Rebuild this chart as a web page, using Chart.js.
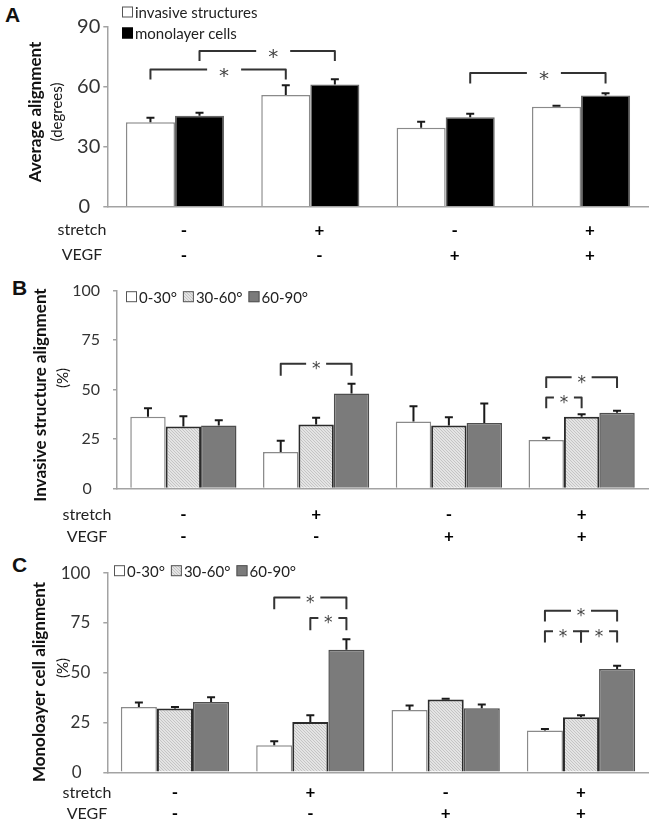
<!DOCTYPE html>
<html>
<head>
<meta charset="utf-8">
<script src="https://cdn.jsdelivr.net/npm/chart.js@4.4.0/dist/chart.umd.min.js"></script>
<style>
  body { margin: 0; background: #fff; width: 654px; height: 832px; position: relative; overflow: hidden; font-family: Lato, sans-serif; }
  canvas { position: absolute; left: 0; }
  .panel { position: absolute; font-weight: bold; font-size: 21px; font-family: "Liberation Sans", Arial, sans-serif; color: #111; }
</style>
</head>
<body>
<div class="panel" style="left:5px;top:3px">A</div>
<div class="panel" style="left:12px;top:276px">B</div>
<div class="panel" style="left:12px;top:553px">C</div>
<canvas id="chartA" width="654" height="265" style="top:0"></canvas>
<canvas id="chartB" width="654" height="282" style="top:268px"></canvas>
<canvas id="chartC" width="654" height="282" style="top:550px"></canvas>
<script>
// ---- données ----
const stretchRow = ['-', '+', '-', '+'];
const vegfRow = ['-', '-', '+', '+'];
const xLabels = stretchRow.map((s, i) => [s, vegfRow[i]]);
const rowNames = ['stretch', 'VEGF'];

const ticksA = [0, 30, 60, 90];
const ticksPct = [0, 25, 50, 75, 100];

// A : alignement moyen (degrés)
const invasive = [42.3, 56, 39.5, 50];
const invasiveErr = [2.2, 4.8, 3, 0.5];
const monolayer = [45.5, 61.2, 44.8, 55.7];
const monolayerErr = [1.5, 2.6, 1.7, 1.1];

// B : structures invasives (%)
const inv0_30 = [36.2, 18.4, 33.9, 24.5];
const inv0_30Err = [4.4, 5.7, 7.7, 1.1];
const inv30_60 = [31.3, 32.4, 31.8, 36.2];
const inv30_60Err = [5.2, 3.3, 4.2, 1.3];
const inv60_90 = [31.8, 48, 33.1, 38.3];
const inv60_90Err = [2.7, 4.9, 9.9, 1];

// C : cellules monocouche (%)
const mono0_30 = [32.8, 13.6, 31.3, 21];
const mono0_30Err = [2.3, 2, 2.2, 0.7];
const mono30_60 = [32, 25.3, 36.6, 27.7];
const mono30_60Err = [0.8, 3.4, 0.3, 0.9];
const mono60_90 = [35.3, 61.6, 32.2, 51.9];
const mono60_90Err = [2.4, 5.2, 1.9, 1.6];

Chart.defaults.font.family = 'Lato';
Chart.defaults.color = '#222';

// motif pointillé pour 30-60°
function dotted() {
  const c = document.createElement('canvas');
  c.width = 3; c.height = 3;
  const g = c.getContext('2d');
  g.fillStyle = '#e4e4e4'; g.fillRect(0, 0, 3, 3);
  g.fillStyle = '#c4c4c4'; g.fillRect(0, 0, 1, 1); g.fillRect(1, 1, 1, 1); g.fillRect(2, 2, 1, 1);
  return g.createPattern(c, 'repeat');
}
const hatch = dotted();

const styleWhite = { backgroundColor: '#fff', borderColor: '#8a8a8a', borderWidth: 1.5 };
const styleBlack = { backgroundColor: '#000', borderColor: '#666', borderWidth: 1.5 };
const styleLight = { backgroundColor: hatch, borderColor: '#2b2b2b', borderWidth: 2 };
const styleDark = { backgroundColor: '#7b7b7b', borderColor: '#4d4d4d', borderWidth: 1.5 };

// ---- plugin : barres d'erreur, crochets, titres, légende ----
const decor = {
  id: 'decor',
  afterDatasetsDraw(chart, args, o) {
    const ctx = chart.ctx, y = chart.scales.y;
    ctx.save();
    ctx.strokeStyle = '#1a1a1a';
    ctx.lineWidth = 2;
    chart.data.datasets.forEach((ds, i) => {
      chart.getDatasetMeta(i).data.forEach((bar, j) => {
        const top = y.getPixelForValue(ds.data[j] + ds.errors[j]);
        ctx.beginPath();
        ctx.moveTo(bar.x, bar.y);
        ctx.lineTo(bar.x, top);
        ctx.moveTo(bar.x - 4, top);
        ctx.lineTo(bar.x + 4, top);
        ctx.stroke();
      });
    });
    // crochets de significativité
    ctx.strokeStyle = '#333';
    ctx.lineJoin = 'round';
    ctx.fillStyle = '#444';
    ctx.font = o.starFont;
    ctx.textAlign = 'center';
    ctx.textBaseline = 'middle';
    o.brackets.forEach(b => {
      const x1 = chart.getDatasetMeta(b.from[0]).data[b.from[1]].x;
      const x2 = chart.getDatasetMeta(b.to[0]).data[b.to[1]].x;
      const yy = y.getPixelForValue(b.level);
      const yd = y.getPixelForValue(b.drop);
      const xm = (x1 + x2) / 2 + o.starShift;
      ctx.beginPath();
      ctx.moveTo(x1, yd); ctx.lineTo(x1, yy); ctx.lineTo(xm - o.gap, yy);
      ctx.moveTo(xm + o.gap, yy); ctx.lineTo(x2, yy); ctx.lineTo(x2, yd);
      ctx.stroke();
      ctx.fillText('*', xm, yy + o.starDy);
    });
    ctx.restore();
  },
  afterDraw(chart, args, o) {
    const ctx = chart.ctx, x = chart.scales.x;
    ctx.save();
    // titre de l'axe y
    ctx.fillStyle = '#111';
    ctx.textAlign = 'center';
    ctx.textBaseline = 'middle';
    [[o.title, 'bold 17px Lato'], [o.sub, '15px Lato']].forEach(([t, f]) => {
      ctx.save();
      ctx.translate(t.x, t.y);
      ctx.rotate(-Math.PI / 2);
      ctx.font = f;
      ctx.fillText(t.text, 0, 0);
      ctx.restore();
    });
    // noms des lignes sous l'axe x
    const t = chart.options.scales.x.ticks;
    const lh = t.font.size * t.font.lineHeight;
    ctx.font = '16px Lato';
    ctx.fillStyle = '#222';
    rowNames.forEach((name, i) => {
      ctx.fillText(name, o.rowX, x.top + t.padding + lh / 2 + i * lh);
    });
    // légende
    ctx.font = o.legend.font;
    ctx.textAlign = 'left';
    let lx = o.legend.x, ly = o.legend.y;
    chart.data.datasets.forEach(ds => {
      ctx.fillStyle = ds.backgroundColor;
      ctx.fillRect(lx, ly - 5.5, 11, 11);
      ctx.strokeStyle = ds.backgroundColor === '#000' ? '#000' : '#555';
      ctx.lineWidth = 1;
      ctx.strokeRect(lx + 0.5, ly - 5, 10, 10);
      ctx.fillStyle = '#222';
      ctx.fillText(ds.label, lx + 13, ly + 1);
      if (o.legend.vertical) {
        ly += o.legend.step;
      } else {
        lx += 13 + ctx.measureText(ds.label).width + 6;
      }
    });
    ctx.restore();
  }
};

function makeChart(id, datasets, ticks, lay) {
  return new Chart(document.getElementById(id), {
    type: 'bar',
    data: { labels: xLabels, datasets },
    plugins: [decor],
    options: {
      responsive: false,
      animation: false,
      devicePixelRatio: 1,
      layout: { padding: { top: lay.top, right: lay.right, left: 0, bottom: 0 } },
      datasets: { bar: { categoryPercentage: lay.cat, barPercentage: 1 } },
      scales: {
        x: {
          grid: { display: false, drawTicks: false },
          border: { display: true, color: '#a3a3a3', width: 1.5 },
          ticks: {
            color: '#000', autoSkip: false, maxRotation: 0,
            padding: lay.xPad, labelOffset: lay.xShift,
            font: { size: 17, weight: 'bold', lineHeight: lay.lh / 17 }
          },
          afterFit: s => { s.height = lay.xHeight; }
        },
        y: {
          min: ticks[0], max: ticks[ticks.length - 1],
          grid: { drawOnChartArea: false, tickLength: 4, color: '#a3a3a3', lineWidth: 1.5 },
          border: { display: true, color: '#a3a3a3', width: 1.5 },
          ticks: {
            stepSize: ticks[1] - ticks[0], padding: lay.yPad, color: '#333',
            font: { size: lay.yFont },
            callback: v => (v === 0 ? '0  ' : v)
          },
          afterFit: s => { s.width = lay.yWidth; }
        }
      },
      plugins: {
        legend: { display: false },
        tooltip: { enabled: false },
        decor: lay.decor
      }
    }
  });
}

// ---- graphique A ----
makeChart('chartA', [
  Object.assign({ label: 'invasive structures', data: invasive, errors: invasiveErr }, styleWhite),
  Object.assign({ label: 'monolayer cells', data: monolayer, errors: monolayerErr }, styleBlack)
], ticksA, {
  top: 27, right: 5.3, cat: 0.725, xPad: 11, lh: 25, xShift: 9, xHeight: 58.3,
  yWidth: 107.3, yPad: 3, yFont: 20,
  decor: {
    title: { text: 'Average alignment', x: 36, y: 112 },
    sub: { text: '(degrees)', x: 57, y: 112 },
    rowX: 82,
    legend: { x: 122, y: 12, vertical: true, step: 21, font: '15px Lato' },
    starFont: '20px "DejaVu Sans"', starDy: 7, starShift: 6, gap: 17,
    brackets: [
      { from: [0, 0], to: [0, 1], level: 68.7, drop: 63.7 },
      { from: [1, 0], to: [1, 1], level: 78, drop: 73 },
      { from: [1, 2], to: [1, 3], level: 67, drop: 61.7 }
    ]
  }
});

// ---- graphique B ----
makeChart('chartB', [
  Object.assign({ label: '0-30°', data: inv0_30, errors: inv0_30Err }, styleWhite),
  Object.assign({ label: '30-60°', data: inv30_60, errors: inv30_60Err }, styleLight),
  Object.assign({ label: '60-90°', data: inv60_90, errors: inv60_90Err }, styleDark)
], ticksPct, {
  top: 15.5, right: 6, cat: 0.8, xPad: 15.5, lh: 22, xShift: 0, xHeight: 61.5,
  yWidth: 117, yPad: 13, yFont: 16,
  decor: {
    title: { text: 'Invasive structure alignment', x: 41, y: 127 },
    sub: { text: '(%)', x: 63, y: 110 },
    rowX: 87,
    legend: { x: 126, y: 28.7, vertical: false, font: '15px Lato' },
    starFont: '17px "DejaVu Sans"', starDy: 6, starShift: 0, gap: 10,
    brackets: [
      { from: [0, 1], to: [2, 1], level: 63, drop: 57 },
      { from: [0, 3], to: [2, 3], level: 56.2, drop: 50.8 },
      { from: [0, 3], to: [1, 3], level: 46, drop: 40.6 }
    ]
  }
});

// ---- graphique C ----
makeChart('chartC', [
  Object.assign({ label: '0-30°', data: mono0_30, errors: mono0_30Err }, styleWhite),
  Object.assign({ label: '30-60°', data: mono30_60, errors: mono30_60Err }, styleLight),
  Object.assign({ label: '60-90°', data: mono60_90, errors: mono60_90Err }, styleDark)
], ticksPct, {
  top: 19.3, right: 5.3, cat: 0.8, xPad: 10.2, lh: 21, xShift: 0, xHeight: 59.7,
  yWidth: 107.3, yPad: 13, yFont: 17,
  decor: {
    title: { text: 'Monoloayer cell alignment', x: 40, y: 132 },
    sub: { text: '(%)', x: 63, y: 118 },
    rowX: 87,
    legend: { x: 114, y: 20.7, vertical: false, font: '15px Lato' },
    starFont: '17px "DejaVu Sans"', starDy: 6, starShift: 0, gap: 10,
    brackets: [
      { from: [0, 1], to: [2, 1], level: 87.8, drop: 81.9 },
      { from: [1, 1], to: [2, 1], level: 77.5, drop: 71.4 },
      { from: [0, 3], to: [2, 3], level: 81.1, drop: 75.7 },
      { from: [0, 3], to: [1, 3], level: 70.9, drop: 65.2 },
      { from: [1, 3], to: [2, 3], level: 70.9, drop: 65.2 }
    ]
  }
});
</script>
</body>
</html>
